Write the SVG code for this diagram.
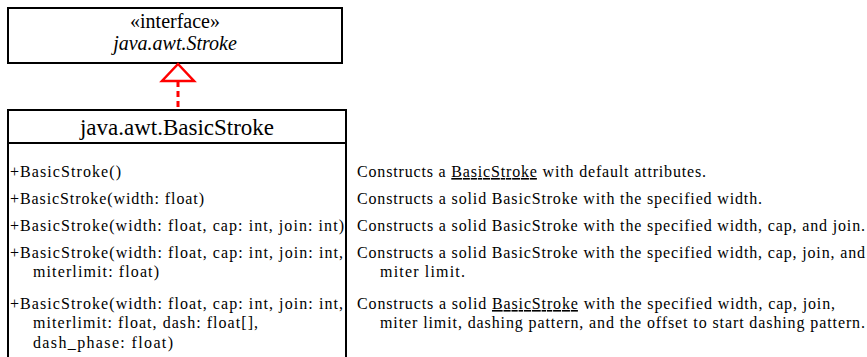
<svg xmlns="http://www.w3.org/2000/svg" width="867" height="357" viewBox="0 0 867 357">
<style>
.box{fill:#fff;stroke:#000;stroke-width:2}
.t{font-family:"Liberation Serif","Times New Roman",serif;font-size:16px;fill:#000}
.h{font-family:"Liberation Serif","Times New Roman",serif;fill:#000;text-anchor:middle}
.u{text-decoration:underline}
</style>
<rect width="867" height="357" fill="#fff"/>
<g id="stroke-interface">
<rect class="box" x="8" y="8" width="334" height="55"/>
<text class="h" x="175" y="28" font-size="20">«interface»</text>
<text class="h" x="175" y="50" font-size="20" font-style="italic">java.awt.Stroke</text>
</g>
<g id="basicstroke">
<rect class="box" x="8" y="110" width="338" height="260"/>
<line x1="8" y1="143" x2="346" y2="143" stroke="#000" stroke-width="2"/>
<text class="h" x="177" y="135" font-size="23">java.awt.BasicStroke</text>
<text class="t" x="10" y="177" textLength="111" lengthAdjust="spacing">+BasicStroke()</text>
<text class="t" x="10" y="204" textLength="194" lengthAdjust="spacing">+BasicStroke(width:  float)</text>
<text class="t" x="10" y="231" textLength="334" lengthAdjust="spacing">+BasicStroke(width:  float, cap: int, join: int)</text>
<text class="t" x="10" y="258" textLength="333" lengthAdjust="spacing">+BasicStroke(width:  float, cap: int, join: int,</text>
<text class="t" x="33" y="277" textLength="126" lengthAdjust="spacing">miterlimit: float)</text>
<text class="t" x="10" y="309" textLength="333" lengthAdjust="spacing">+BasicStroke(width:  float, cap: int, join: int,</text>
<text class="t" x="33" y="328" textLength="225" lengthAdjust="spacing">miterlimit: float, dash: float[],</text>
<text class="t" x="33" y="348" textLength="140" lengthAdjust="spacing">dash_phase: float)</text>
</g>
<g id="descriptions">
<text class="t" x="357" y="177" textLength="349" lengthAdjust="spacing">Constructs a <tspan class="u">BasicStroke</tspan> with default attributes.</text>
<text class="t" x="357" y="204" textLength="405" lengthAdjust="spacing">Constructs a solid BasicStroke with the specified width.</text>
<text class="t" x="357" y="231" textLength="508" lengthAdjust="spacing">Constructs a solid BasicStroke with the specified width, cap, and join.</text>
<text class="t" x="357" y="258" textLength="508" lengthAdjust="spacing">Constructs a solid BasicStroke with the specified width, cap, join, and</text>
<text class="t" x="380" y="277" textLength="85" lengthAdjust="spacing">miter limit.</text>
<text class="t" x="357" y="309" textLength="478" lengthAdjust="spacing">Constructs a solid <tspan class="u">BasicStroke</tspan> with the specified width, cap, join,</text>
<text class="t" x="380" y="328" textLength="485" lengthAdjust="spacing">miter limit, dashing pattern, and the offset to start dashing pattern.</text>
</g>
<g id="connectors">
<line x1="178" y1="81" x2="178" y2="110" stroke="#f00" stroke-width="3" stroke-dasharray="6,4"/>
<polygon points="178,64 162,81 194,81" fill="#fff" stroke="#f00" stroke-width="2.5"/>
</g>
</svg>
